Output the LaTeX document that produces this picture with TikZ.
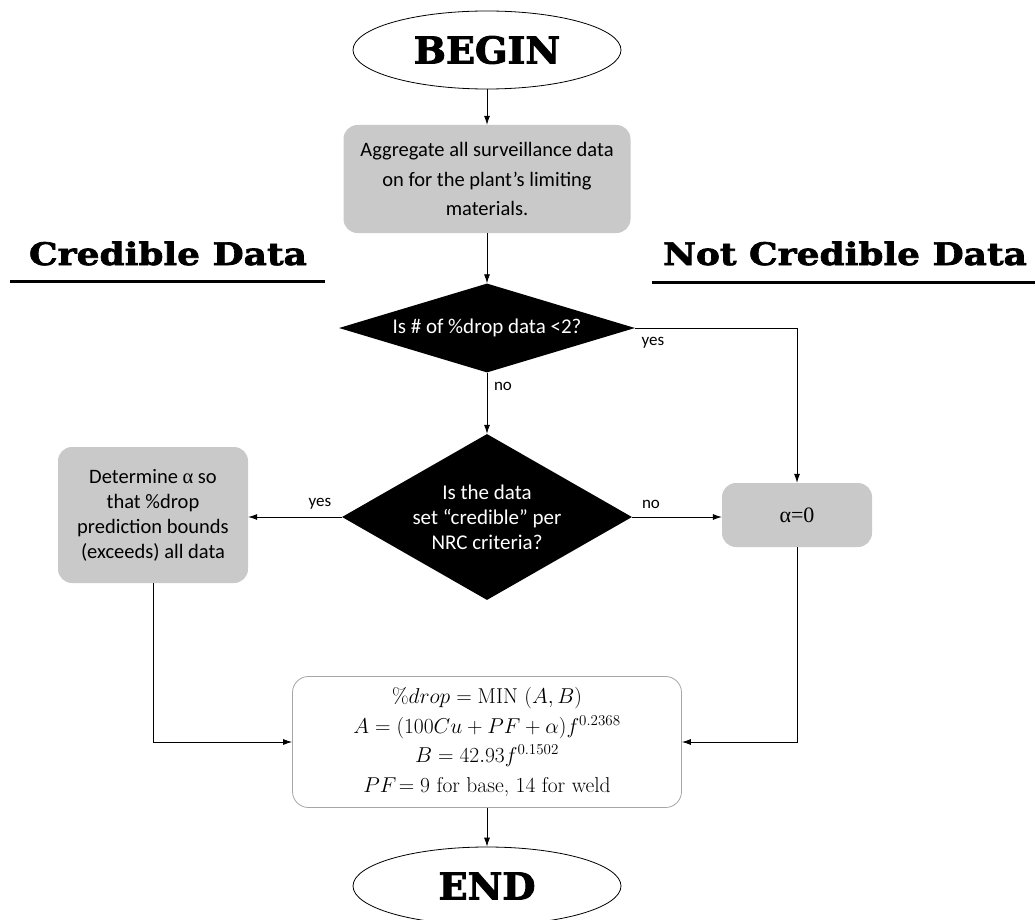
\RequirePackage{fix-cm}
\documentclass[tikz,border=0pt]{standalone}
\usepackage{fontspec}
\usetikzlibrary{shapes.geometric,arrows.meta}
\newfontfamily\calibri{Carlito}
\newfontfamily\slabT{DejaVu Serif}[FakeStretch=1.16,FakeBold=2.2]
\newfontfamily\slabB{DejaVu Serif}[FakeStretch=1.03,FakeBold=2.5]
\newfontfamily\libserif{Liberation Serif}
\begin{document}
\begin{tikzpicture}[x=1pt,y=-1pt,
  term/.style={ellipse,draw,line width=0.8pt,fill=white,minimum width=268pt,minimum height=78pt,inner sep=0pt,font=\slabB\bfseries\fontsize{37}{40}\selectfont},
  graybox/.style={rectangle,rounded corners=14pt,fill=gray!42,inner sep=0pt,align=center,font=\calibri\fontsize{20.5}{29.5}\selectfont},
  decision/.style={diamond,fill=black,text=white,inner sep=0pt,align=center,font=\calibri\fontsize{21}{25}\selectfont},
  formbox/.style={rectangle,rounded corners=16pt,draw=gray!70,line width=0.8pt,fill=white,inner sep=0pt,align=center},
  conn/.style={line width=0.8pt,-{Latex[length=9pt,width=6pt]}},
  lbl/.style={font=\calibri\fontsize{17}{20}\selectfont},
  title/.style={font=\slabT\bfseries\fontsize{31}{36}\selectfont,anchor=base},
  rule/.style={line width=3pt},
]
\path[use as bounding box,clip] (0,0) rectangle (1035,920);

\node[term] (begin) at (487,50) {BEGIN};
\node[graybox,minimum width=287pt,minimum height=108pt] (agg) at (487,179) {Aggregate all surveillance data\\on for the plant’s limiting\\materials.};

\node[title] (t1) at (168,265) {Credible Data};
\node[title] (t2) at (845,265) {Not Credible Data};
\coordinate (u1a) at (10,281);
\coordinate (u1b) at (325,281);
\coordinate (u2a) at (652,282);
\coordinate (u2b) at (1035,282);
\draw[rule] (u1a) -- (u1b);
\draw[rule] (u2a) -- (u2b);

\node[decision,aspect=3.33,minimum width=296pt,minimum height=89pt] (d1) at (487,328) {Is \# of \%drop data <2?};
\node[decision,aspect=1.75,minimum width=290pt,minimum height=166pt] (d2) at (487,517) {Is the data\\set “credible” per\\NRC criteria?};

\node[graybox,minimum width=190pt,minimum height=136pt,font=\calibri\fontsize{20.5}{25}\selectfont] (det) at (153,515) {Determine {\libserif α} so\\that \%drop\\prediction bounds\\(exceeds) all data};
\node[graybox,minimum width=150pt,minimum height=64pt,font=\libserif\fontsize{22}{26}\selectfont] (alpha) at (797,515) {α=0};

\node[formbox,minimum width=389pt,minimum height=131pt,font=\fontsize{21.5}{29.5}\selectfont] (form) at (487,742) {$\%drop=\mathrm{MIN}\ (A,B)$\\$A=(100Cu+PF+\alpha)f^{0.2368}$\\$B=42.93f^{0.1502}$\\$PF\!=9$ for base, 14 for weld};

\node[term] (end) at (487,886) {END};

\draw[conn] (begin) -- (agg);
\draw[conn] (agg) -- (d1);
\draw[conn] (d1) -- (d2);
\draw[conn] (d1.east) -| (alpha.north);
\draw[conn] (d2.west) -- (det.east |- d2.west);
\draw[conn] (d2.east) -- (alpha.west |- d2.east);
\draw[conn] (det.south) |- (form.west);
\draw[conn] (alpha.south) |- (form.east);
\draw[conn] (form) -- (end);

\node[lbl] (l1) at (653,343) {yes};
\node[lbl] (l2) at (503,386) {no};
\node[lbl] (l3) at (320,504) {yes};
\node[lbl] (l4) at (651,504) {no};
\end{tikzpicture}
\end{document}
